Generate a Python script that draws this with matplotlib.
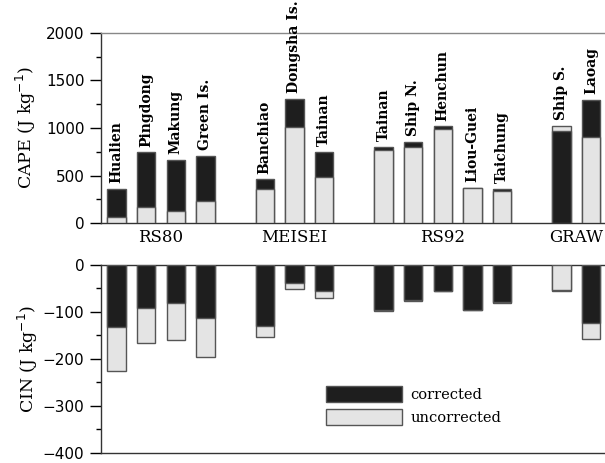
import matplotlib
matplotlib.use("Agg")
import matplotlib.pyplot as plt
import numpy as np
from matplotlib.patches import Patch

stations = ["Hualien", "Pingdong", "Makung", "Green Is.",
            "Banchiao", "Dongsha Is.", "Tainan",
            "Tainan", "Ship N.", "Henchun", "Liou-Guei", "Taichung",
            "Ship S.", "Laoag"]
groups = ["RS80", "MEISEI", "RS92", "GRAW"]
group_sizes = [4, 3, 5, 2]

cape_corr = [363, 746, 665, 708, 461, 1306, 753, 803, 855, 1017, 373, 363, 968, 1299]
cape_unc = [63, 169, 127, 236, 359, 1007, 486, 771, 799, 986, 370, 334, 1024, 901]
cin_corr = [-133, -92, -82, -114, -131, -39, -56, -97, -74, -55, -95, -79, -55, -123]
cin_unc = [-226, -166, -159, -195, -153, -51, -71, -99, -77, -56, -95, -81, -53, -157]

dark = "#1e1e1e"
light = "#e4e4e4"
edge = "#555555"

# x positions: one empty slot between instrument groups
pos = []
gx = []
start = 0
for n in group_sizes:
    p = list(range(start, start + n))
    pos += p
    gx.append(np.mean(p))
    start += n + 1
pos = np.array(pos)

fig = plt.figure(figsize=(6.05, 4.63), dpi=100)
ax1 = fig.add_axes([0.167, 0.518, 0.833, 0.411])
ax2 = fig.add_axes([0.167, 0.0216, 0.833, 0.4064])

w = 0.62


def draw(ax, corr, unc):
    for x, c, u in zip(pos, corr, unc):
        # larger magnitude behind, smaller in front
        if abs(u) >= abs(c):
            first, second = (u, light), (c, dark)
        else:
            first, second = (c, dark), (u, light)
        ax.bar(x, first[0], w, color=first[1], edgecolor=edge, lw=1.0, zorder=2)
        ax.bar(x, second[0], w, color=second[1], edgecolor=edge, lw=1.0, zorder=3)


draw(ax1, cape_corr, cape_unc)
draw(ax2, cin_corr, cin_unc)

for ax in (ax1, ax2):
    ax.set_xlim(-0.52, 16.47)
    ax.set_xticks([])
    ax.spines["right"].set_visible(False)
    for s in ("left", "top", "bottom"):
        ax.spines[s].set_color("#333333")
        ax.spines[s].set_linewidth(1.0)
    ax.tick_params(axis="y", direction="out", length=8, width=1, labelsize=11, pad=4)
    ax.tick_params(axis="y", which="minor", direction="out", length=3.6, width=1)

ax1.spines["top"].set_color("#888888")

ax1.set_ylim(0, 2000)
ax1.set_yticks([0, 500, 1000, 1500, 2000])
ax1.set_yticks(np.arange(250, 2000, 500), minor=True)
ax2.set_ylim(-400, 0)
ax2.set_yticks([0, -100, -200, -300, -400])
ax2.set_yticks(np.arange(-50, -400, -100), minor=True)
ax2.set_yticklabels(["0", "\u2212100", "\u2212200", "\u2212300", "\u2212400"])
for ax in (ax1, ax2):
    for t in ax.get_yticklabels():
        t.set_family("DejaVu Sans")

ax1.set_ylabel("CAPE (J kg$^{-1}$)", family="DejaVu Serif", fontsize=12.5, labelpad=6)
ax2.set_ylabel("CIN (J kg$^{-1}$)", family="DejaVu Serif", fontsize=12.5, labelpad=2)

for x, name, c, u in zip(pos, stations, cape_corr, cape_unc):
    ax1.annotate(name, (x, max(c, u)), xytext=(0, 4), textcoords="offset points",
                 rotation=90, ha="center", va="bottom", family="DejaVu Serif",
                 fontsize=10, fontweight="semibold", annotation_clip=False)

for x, g in zip(gx, groups):
    ax1.text(x, -60, g, ha="center", va="top", family="DejaVu Serif", fontsize=12)

handles = [Patch(facecolor=dark, edgecolor=edge, label="corrected"),
           Patch(facecolor=light, edgecolor=edge, label="uncorrected")]
ax2.legend(handles=handles, loc="lower left", bbox_to_anchor=(0.42, 0.08),
           frameon=False, handlelength=5.2, handleheight=1.3, handletextpad=0.6,
           labelspacing=0.45, prop={"family": "DejaVu Serif", "size": 10.5})

fig.savefig("out.png", dpi=100)
